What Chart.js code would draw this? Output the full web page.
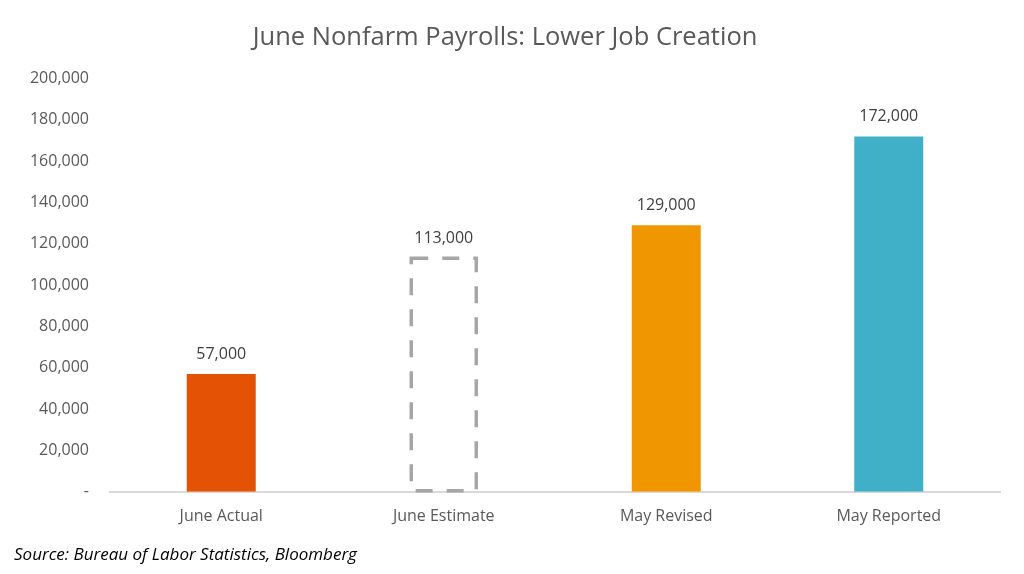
<!DOCTYPE html>
<html>
<head>
<meta charset="utf-8">
<script src="https://cdn.jsdelivr.net/npm/chart.js@4.4.0/dist/chart.umd.min.js"></script>
<style>
  html, body { margin: 0; padding: 0; background: #fff; }
  #wrap { position: relative; width: 1024px; height: 574px; }
  #source {
    position: absolute; left: 14px; top: 542px;
    font-family: "Open Sans", "Liberation Sans", sans-serif; font-style: italic;
    font-size: 17px; color: #000;
  }
</style>
</head>
<body>
<div id="wrap">
  <canvas id="canvas" width="1024" height="574"></canvas>
  <div id="source">Source: Bureau of Labor Statistics, Bloomberg</div>
</div>
<script>
// categories and values
var categories = ['June Actual', 'June Estimate', 'May Revised', 'May Reported'];
var payrolls = [57000, 113000, 129000, 172000];
var barColors = ['#E35205', 'rgba(0,0,0,0)', '#F09600', '#40AFC8'];
var dashedBar = [false, true, false, false];

var FONT = '"Open Sans", "Liberation Sans", sans-serif';

function fmt(v) {
    if (v === 0) return '-';
    return v.toLocaleString('en-US');
}

// value labels above bars + dashed outline for the estimate
var barExtras = {
    id: 'barExtras',
    afterDatasetsDraw: function(chart) {
        var ctx = chart.ctx;
        var meta = chart.getDatasetMeta(0);
        meta.data.forEach(function(bar, i) {
            if (dashedBar[i]) {
                var w = bar.width;
                ctx.save();
                ctx.strokeStyle = '#A6A6A6';
                ctx.lineWidth = 3.5;
                ctx.setLineDash([17, 14]);
                ctx.strokeRect(bar.x - w / 2 + 2, bar.y, w - 4, bar.base - bar.y - 1);
                ctx.restore();
            }
            ctx.save();
            ctx.fillStyle = '#404040';
            ctx.font = '16px ' + FONT;
            ctx.textAlign = 'center';
            ctx.textBaseline = 'middle';
            ctx.fillText(fmt(payrolls[i]), bar.x, bar.y - 20);
            ctx.restore();
        });
    }
};

var ctx = document.getElementById('canvas').getContext('2d');
var chart = new Chart(ctx, {
    type: 'bar',
    data: {
        labels: categories,
        datasets: [{
            data: payrolls,
            backgroundColor: barColors,
            borderWidth: 0,
            categoryPercentage: 1,
            barPercentage: 0.31
        }]
    },
    options: {
        responsive: false,
        animation: false,
        layout: { padding: { left: 10, right: 24, top: 0, bottom: 33 } },
        plugins: {
            legend: { display: false },
            tooltip: { enabled: false },
            title: {
                display: true,
                text: 'June Nonfarm Payrolls: Lower Job Creation',
                color: '#595959',
                font: { family: FONT, size: 25.5, weight: 'normal' },
                padding: { top: 22, bottom: 26 }
            }
        },
        scales: {
            x: {
                grid: { display: false, drawTicks: false },
                border: { color: '#D9D9D9', width: 2 },
                ticks: { color: '#595959', font: { family: FONT, size: 16 }, padding: 15 }
            },
            y: {
                min: 0,
                max: 200000,
                grid: { display: false, drawTicks: false },
                border: { display: false },
                afterFit: function(scale) { scale.width = 100; },
                ticks: {
                    stepSize: 20000,
                    color: '#595959',
                    font: { family: FONT, size: 16 },
                    padding: 21,
                    callback: function(v) { return fmt(v); }
                }
            }
        }
    },
    plugins: [barExtras]
});
</script>
</body>
</html>
